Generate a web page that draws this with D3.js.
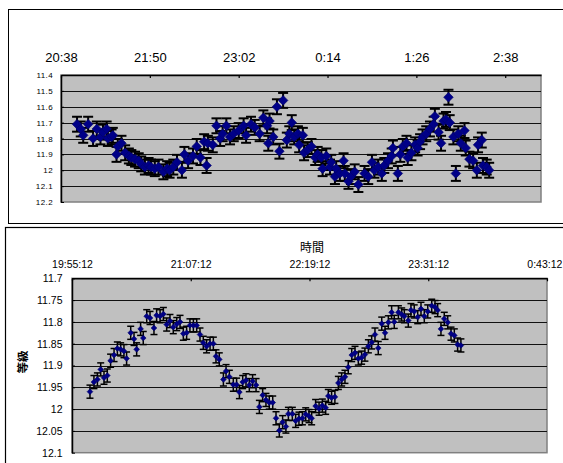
<!DOCTYPE html>
<html><head><meta charset="utf-8">
<script src="https://cdn.jsdelivr.net/npm/d3@7"></script>
<style>body{margin:0;background:#fff}svg{display:block}</style>
</head><body>
<svg id="c" width="563" height="463"></svg>
<script>
// ---------- top chart data ----------
const topTimes = [
"20:51","20:54","20:56","21:00","21:04","21:07","21:10","21:12","21:15","21:16",
"21:19","21:20","21:23","21:24","21:27","21:30","21:33","21:35","21:38","21:41",
"21:43","21:46","21:49","21:51","21:54","21:57","22:01","22:04","22:06","22:09",
"22:12","22:16","22:18","22:21","22:25","22:28","22:31","22:34","22:36","22:37",
"22:41","22:44","22:47","22:49","22:52","22:55","22:58","23:02","23:06","23:08",
"23:12","23:15","23:19","23:22","23:25","23:26","23:27","23:30","23:33","23:35",
"23:38","23:41","23:43","23:45","23:47","23:50","23:51","23:54","23:55","23:58",
"0:01","0:04","0:06","0:09","0:10","0:13","0:16","0:17","0:20","0:21",
"0:24","0:27","0:28","0:31","0:33","0:36","0:39","0:44","0:47","0:50",
"0:52","0:55","0:58","1:00","1:03","1:06","1:07","1:11","1:13","1:15",
"1:18","1:19","1:22","1:25","1:27","1:29","1:31","1:34","1:37","1:40",
"1:41","1:44","1:46","1:48","1:50","1:52","1:53","1:56","1:58","2:00",
"2:02","2:05","2:06","2:09","2:12","2:15","2:16","2:19","2:20","2:23",
"2:25"];
const topMags = [
11.71,11.74,11.78,11.71,11.80,11.74,11.79,11.76,11.74,11.80,
11.79,11.78,11.90,11.85,11.83,11.89,11.91,11.92,11.93,11.94,
11.96,11.98,11.97,11.98,11.99,11.98,12.01,11.99,12.00,11.98,
11.95,12.00,11.90,11.94,11.91,11.85,11.92,11.82,11.97,11.83,
11.84,11.72,11.80,11.77,11.72,11.79,11.77,11.75,11.72,11.78,
11.71,11.73,11.77,11.67,11.72,11.83,11.69,11.79,11.60,11.88,
11.56,11.81,11.77,11.70,11.79,11.77,11.84,11.78,11.89,11.87,
11.85,11.92,11.90,11.92,11.99,11.91,11.98,11.95,12.04,11.99,
12.02,11.94,12.02,12.07,12.04,12.01,12.09,12.02,12.04,11.95,
12.00,11.98,12.02,11.97,11.94,11.91,11.86,12.02,11.90,11.85,
11.83,11.92,11.89,11.84,11.86,11.82,11.79,11.77,11.74,11.71,
11.66,11.76,11.83,11.69,11.68,11.54,11.70,11.79,12.02,11.77,
11.83,11.75,11.86,11.93,11.94,12.00,11.84,11.81,11.97,11.98,
12.00];
const topErr = 0.047;
const topXRange = ["20:38","3:07"];
const topXTicks = ["20:38","21:50","23:02","0:14","1:26","2:38"];
const topYTicks = [11.4,11.5,11.6,11.7,11.8,11.9,12.0,12.1,12.2];

// ---------- bottom chart data ----------
const bottomTimes = [
"20:06:06","20:08:30","20:10:36","20:12:36","20:14:36","20:16:36","20:18:36","20:20:42","20:22:42","20:24:42",
"20:26:42","20:28:18","20:30:48","20:32:48","20:34:24","20:36:48","20:38:24","20:40:30","20:42:30","20:44:54",
"20:46:30","20:48:36","20:50:36","20:52:36","20:54:36","20:56:36","20:58:42","21:00:42","21:02:42","21:04:42",
"21:06:42","21:08:48","21:10:48","21:12:48","21:14:48","21:16:48","21:18:54","21:20:54","21:22:30","21:24:30",
"21:27:00","21:28:36","21:30:36","21:33:00","21:35:00","21:36:42","21:38:42","21:40:42","21:42:42","21:44:42",
"21:46:48","21:48:48","21:50:48","21:52:48","21:54:48","21:56:54","21:58:54","22:00:54","22:02:54","22:04:54",
"22:06:24","22:08:48","22:10:48","22:12:48","22:14:54","22:16:54","22:18:54","22:20:30","22:22:54","22:25:00",
"22:27:00","22:29:00","22:30:36","22:32:36","22:34:36","22:36:42","22:38:42","22:40:42","22:42:42","22:44:48",
"22:46:48","22:48:48","22:50:48","22:52:48","22:54:54","22:56:54","22:58:54","23:00:54","23:03:00","23:05:00",
"23:07:00","23:09:00","23:10:36","23:13:06","23:15:06","23:16:42","23:19:06","23:20:42","23:22:42","23:24:48",
"23:26:48","23:28:48","23:30:54","23:33:18","23:35:18","23:36:54","23:38:54","23:40:54","23:43:00","23:45:00",
"23:47:00","23:49:00","23:51:00"];
const bottomMags = [
11.960,11.938,11.932,11.909,11.928,11.923,11.889,11.876,11.861,11.863,
11.867,11.884,11.825,11.839,11.863,11.816,11.837,11.787,11.791,11.814,
11.785,11.787,11.782,11.806,11.798,11.812,11.805,11.800,11.827,11.825,
11.808,11.808,11.808,11.829,11.848,11.856,11.850,11.850,11.879,11.886,
11.932,11.913,11.926,11.944,11.944,11.961,11.938,11.934,11.945,11.936,
11.945,11.995,11.968,11.979,11.985,11.985,12.021,12.049,12.030,12.040,
12.011,12.011,12.027,12.022,12.021,12.012,12.016,12.021,11.993,11.999,
11.992,11.997,11.970,11.974,11.972,11.940,11.932,11.926,11.904,11.876,
11.871,11.884,11.882,11.875,11.856,11.847,11.829,11.860,11.804,11.825,
11.801,11.778,11.800,11.778,11.783,11.787,11.797,11.773,11.776,11.789,
11.770,11.787,11.776,11.763,11.766,11.773,11.816,11.793,11.801,11.827,
11.831,11.852,11.854];
const bottomErr = 0.015;
const bottomXRange = ["19:55:12","0:43:12"];
const bottomXTicks = ["19:55:12","21:07:12","22:19:12","23:31:12","0:43:12"];
const bottomYTicks = [11.7,11.75,11.8,11.85,11.9,11.95,12.0,12.05,12.1];
const xTitle = "時間";
const yTitle = "等級";

// ---------- helpers ----------
function toMin(s){
  const p = s.split(":").map(Number);
  let m = p[0]*60 + p[1] + (p[2]||0)/60;
  if (p[0] < 12) m += 1440;
  return m;
}
const FONT = "'Liberation Sans', Arial, sans-serif";
const W = 563;
const svg = d3.select("#c");

// panel frames
svg.append("rect").attr("x",8.5).attr("y",9.5).attr("width",620).attr("height",214)
  .attr("fill","#fff").attr("stroke","#000").attr("stroke-width",1);
svg.append("rect").attr("x",5.5).attr("y",227.5).attr("width",620).attr("height",300)
  .attr("fill","#fff").attr("stroke","#000").attr("stroke-width",1.2);

function drawChart(cfg){
  const g = svg.append("g");
  const x = d3.scaleLinear().domain(cfg.xRange.map(toMin)).range([cfg.left, cfg.right]);
  const y = d3.scaleLinear().domain([cfg.yTicks[0], cfg.yTicks[cfg.yTicks.length-1]]).range([cfg.top, cfg.bottom]);
  g.append("rect").attr("x",cfg.left).attr("y",cfg.top)
    .attr("width",cfg.right-cfg.left).attr("height",cfg.bottom-cfg.top)
    .attr("fill","#c0c0c0").attr("stroke","#808080").attr("stroke-width",1.5);
  g.selectAll("line.grid").data(cfg.yTicks.slice(1,-1)).enter().append("line")
    .attr("x1",cfg.left).attr("x2",cfg.right)
    .attr("y1",d=>Math.round(y(d))+0.5).attr("y2",d=>Math.round(y(d))+0.5)
    .attr("stroke","#111").attr("stroke-width",1);
  const xa = g.append("g").attr("transform",`translate(0,${cfg.top})`)
    .call(d3.axisTop(x).tickValues(cfg.xTicks.map(toMin)).tickFormat((d,i)=>cfg.xTicks[i])
      .tickSizeInner(-3).tickSizeOuter(0).tickPadding(cfg.xPad));
  xa.select(".domain").attr("stroke","#000").attr("stroke-width",1.5);
  xa.selectAll(".tick line").attr("stroke","#000").attr("stroke-width",1.2);
  xa.selectAll("text").attr("font-family",FONT).attr("font-size",cfg.xFont).attr("fill","#000");
  // keep edge labels inside the window
  xa.selectAll(".tick").each(function(){
    const tk = d3.select(this), t = tk.select("text");
    const bb = t.node().getBBox();
    const tx = +tk.attr("transform").match(/translate\(([-\d.]+)/)[1];
    const over = tx + bb.x + bb.width - (W - 0.5);
    if (over > 0) t.attr("x", -over);
  });
  const ya = g.append("g").attr("transform",`translate(${cfg.left},0)`)
    .call(d3.axisLeft(y).tickValues(cfg.yTicks).tickFormat(d=>String(+d.toFixed(2)))
      .tickSizeInner(-3).tickSizeOuter(0).tickPadding(cfg.yPad));
  ya.select(".domain").attr("stroke","#000").attr("stroke-width",1.5);
  ya.selectAll(".tick line").attr("stroke","#000");
  ya.selectAll("text").attr("font-family",FONT).attr("font-size",cfg.yFont).attr("fill","#000")
    .attr("letter-spacing",cfg.yLetter||0);

  const pts = cfg.times.map((t,i)=>({t:toMin(t), m:cfg.mags[i]}));
  const eb = g.append("g").attr("stroke","#000").attr("stroke-width",cfg.ebW);
  pts.forEach(p=>{
    const cx = x(p.t), y1 = y(p.m - cfg.err), y2 = y(p.m + cfg.err);
    eb.append("line").attr("x1",cx).attr("x2",cx).attr("y1",y1).attr("y2",y2);
    eb.append("line").attr("x1",cx-cfg.cap).attr("x2",cx+cfg.cap).attr("y1",y1).attr("y2",y1);
    eb.append("line").attr("x1",cx-cfg.cap).attr("x2",cx+cfg.cap).attr("y1",y2).attr("y2",y2);
  });
  const sym = d3.symbol(d3.symbolSquare, cfg.msize);
  g.append("g").selectAll("path").data(pts).enter().append("path")
    .attr("d",sym)
    .attr("transform",p=>`translate(${x(p.t)},${y(p.m)}) rotate(45)`)
    .attr("fill","#000088").attr("stroke","#00006a").attr("stroke-width",0.6);
  return {x,y};
}

drawChart({
  times: topTimes, mags: topMags, err: topErr, xRange: topXRange, xTicks: topXTicks, yTicks: topYTicks,
  left:61, right:541, top:75, bottom:202, xPad:13.5, yPad:8, xFont:"13px", yFont:"8px", yLetter:"0.4px",
  ebW:2, cap:5, msize:46
});
drawChart({
  times: bottomTimes, mags: bottomMags, err: bottomErr, xRange: bottomXRange, xTicks: bottomXTicks, yTicks: bottomYTicks,
  left:72, right:547, top:278.3, bottom:452.7, xPad:10.5, yPad:9.5, xFont:"10.5px", yFont:"10.5px",
  ebW:1.5, cap:3.5, msize:16
});

svg.append("text").attr("x",312).attr("y",252).attr("text-anchor","middle")
  .attr("font-family","'Noto Sans CJK JP', sans-serif").attr("font-size","12px").text(xTitle);
svg.append("text").attr("transform","translate(26.5,362) rotate(-90)").attr("text-anchor","middle")
  .attr("font-family","'Noto Sans CJK JP', sans-serif").attr("font-size","11.5px").attr("font-weight","bold").text(yTitle);
</script>
</body></html>
